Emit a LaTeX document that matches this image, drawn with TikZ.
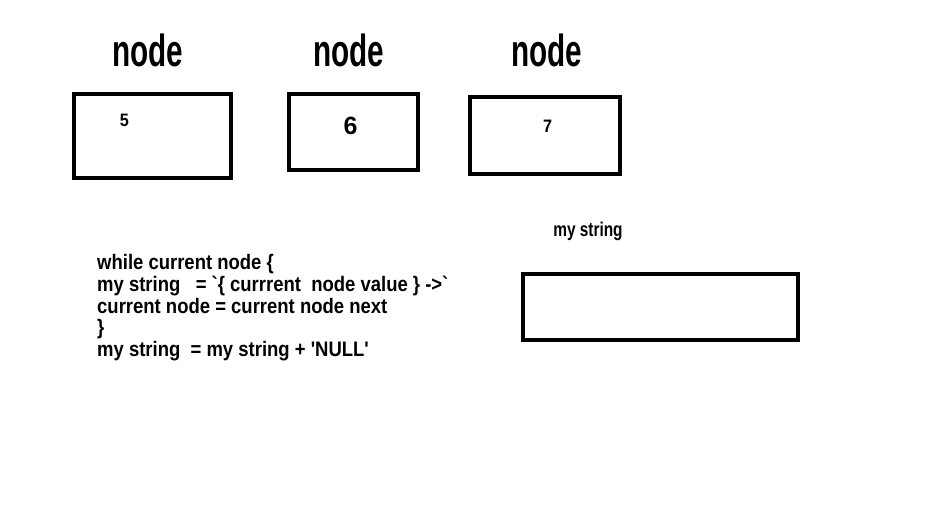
\documentclass[tikz,border=0pt]{standalone}
\usepackage{fontspec}
\setmainfont{Liberation Sans}
\newcommand{\squeeze}[2]{\scalebox{#1}[1]{#2}}
\tikzset{
  cell/.style={draw=black, line width=4pt, inner sep=0pt},
  title/.style={anchor=base, inner sep=0pt, font=\bfseries\fontsize{45}{45}\selectfont},
  value/.style={anchor=base, inner sep=0pt, font=\bfseries\fontsize{#1}{#1}\selectfont},
  code/.style={anchor=base west, inner sep=0pt, font=\bfseries\fontsize{21}{21}\selectfont}
}

\begin{document}
\begin{tikzpicture}[x=1pt,y=-1pt]
\useasboundingbox (0,0) rectangle (933,526);
% the three list nodes
\foreach \x [count=\i] in {148,349,547}
 \node[title] (title\i) at (\x,67) {\squeeze{0.66}{node}};
\node[cell, minimum width=157pt, minimum height=84pt] (box5) at (152.5,136) {};
\node[cell, minimum width=129pt, minimum height=76pt] (box6) at (353.5,132) {};
\node[cell, minimum width=150pt, minimum height=77pt] (box7) at (545,135.5) {};
\node[value=18] (val5) at (124.5,127) {\squeeze{0.9}{5}};
\node[value=25] (val6) at (350.5,135) {6};
\node[value=18] (val7) at (547.5,133) {\squeeze{0.9}{7}};
% result string
\node[value=20] (strlabel) at (588,237) {\squeeze{0.77}{my string}};
\node[cell, minimum width=275pt, minimum height=66pt] (strbox) at (660.5,307) {};
% loop
\foreach \txt [count=\i, evaluate=\i as \yb using 248.5+21.5*\i] in {
 {while current node \{},
 {my string\ \ \ = \textasciigrave\{ currrent\ \ node value \} ->\textasciigrave},
 {current node = current node next},
 {\}},
 {my string\ \ = my string + \textquotesingle NULL\textquotesingle}}
 \node[code] (code\i) at (97,\yb) {\squeeze{0.88}{\txt}};
\end{tikzpicture}
\end{document}
